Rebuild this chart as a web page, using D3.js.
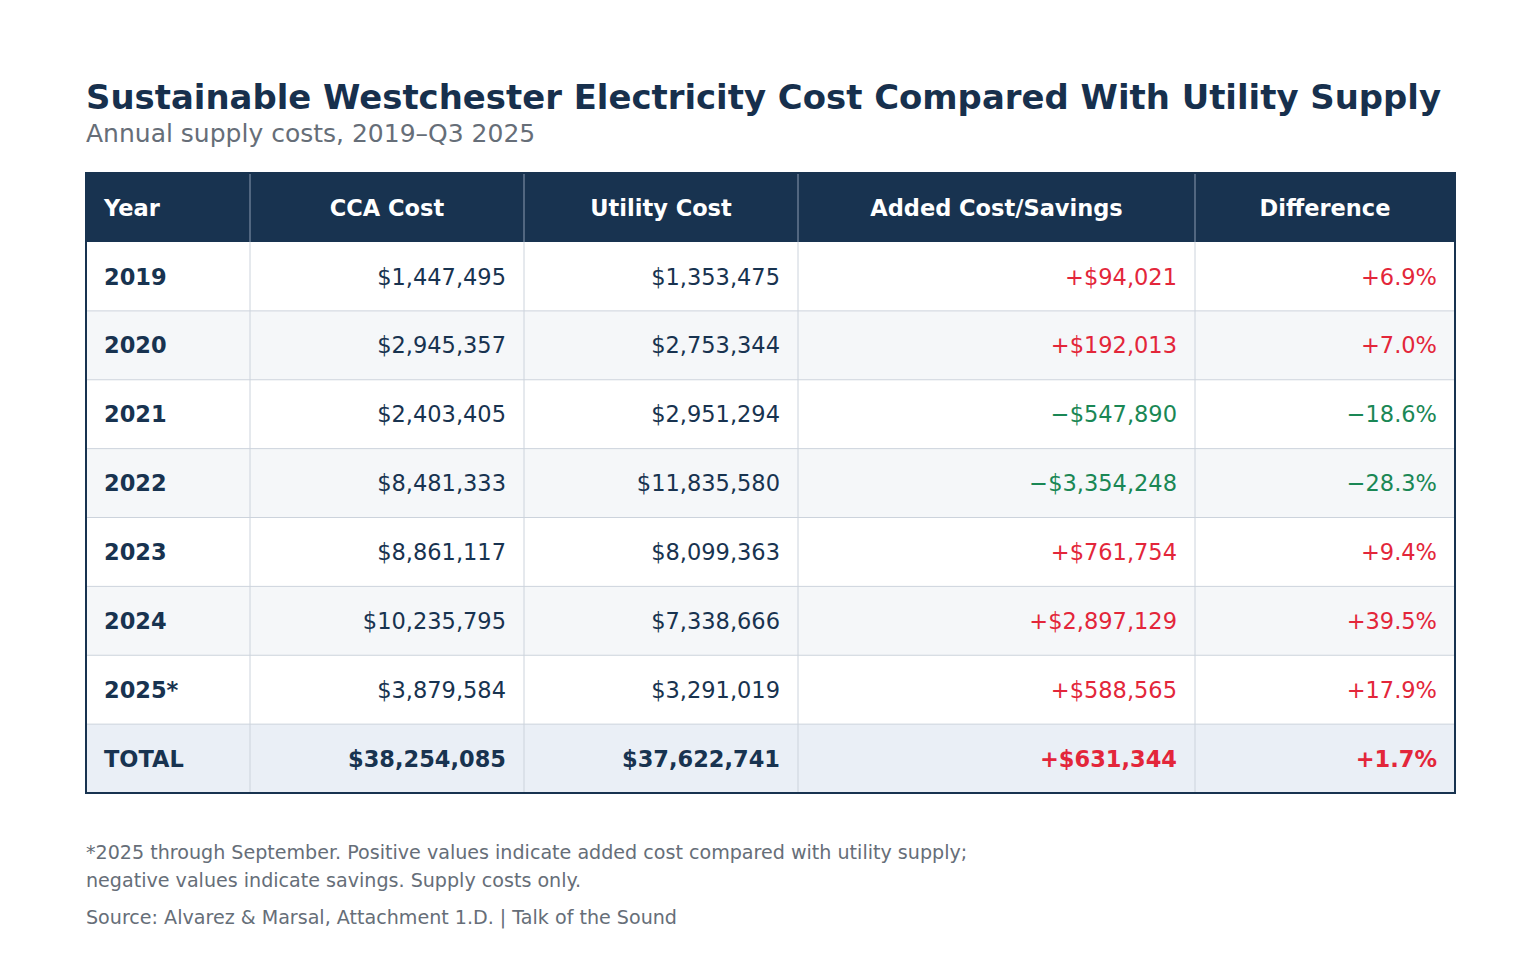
<!DOCTYPE html>
<html>
<head>
<meta charset="utf-8">
<script src="https://cdn.jsdelivr.net/npm/d3@7"></script>
<style>
  body { margin: 0; background: #fff; }
  svg { display: block; font-family: "DejaVu Sans", sans-serif; }
</style>
</head>
<body>
<svg id="chart" width="1540" height="976"></svg>
<script>
//table data
const years = ['2019', '2020', '2021', '2022', '2023', '2024', '2025*', 'TOTAL'];
const ccaCost = [1447495, 2945357, 2403405, 8481333, 8861117, 10235795, 3879584, 38254085];
const utilityCost = [1353475, 2753344, 2951294, 11835580, 8099363, 7338666, 3291019, 37622741];
const addedCost = [94021, 192013, -547890, -3354248, 761754, 2897129, 588565, 631344];
const difference = [6.9, 7.0, -18.6, -28.3, 9.4, 39.5, 17.9, 1.7];
const headers = ['Year', 'CCA Cost', 'Utility Cost', 'Added Cost/Savings', 'Difference'];

const navy = '#183350';
const red = '#e3263a';
const green = '#1a8755';

const svg = d3.select('#chart');

const tLeft = 86, tRight = 1455, tTop = 173, headH = 69, tBottom = 793;
const colEdges = [86, 250, 524, 798, 1195, 1455]; //column boundaries
const cellSize = 22.5;

//rows through a band scale
const y = d3.scaleBand()
    .domain(years)
    .range([tTop + headH, tBottom]);

const money = d3.format(',.0f');
const fmtMoney = v => '$' + money(v);
const fmtSigned = v => (v < 0 ? '\u2212' : '+') + '$' + money(Math.abs(v));
const fmtPct = v => (v < 0 ? '\u2212' : '+') + d3.format('.1f')(Math.abs(v)) + '%';

//title
svg.append('text')
    .attr('x', tLeft).attr('y', 109)
    .attr('font-size', 33.9).attr('font-weight', 'bold')
    .attr('fill', '#17304d')
    .text('Sustainable Westchester Electricity Cost Compared With Utility Supply');

svg.append('text')
    .attr('x', tLeft).attr('y', 142)
    .attr('font-size', 25)
    .attr('fill', '#666e78')
    .text('Annual supply costs, 2019\u2013Q3 2025');

//row backgrounds
svg.selectAll('.rowbg')
    .data(years)
    .enter().append('rect')
    .attr('class', 'rowbg')
    .attr('x', tLeft)
    .attr('y', d => y(d))
    .attr('width', tRight - tLeft)
    .attr('height', y.bandwidth())
    .attr('fill', (d, i) => d === 'TOTAL' ? '#eaeff6' : (i % 2 ? '#f5f7f9' : '#ffffff'));

//header
svg.append('rect')
    .attr('x', tLeft).attr('y', tTop)
    .attr('width', tRight - tLeft).attr('height', headH)
    .attr('fill', navy);

//horizontal grid lines
svg.selectAll('.hline')
    .data(years.slice(1))
    .enter().append('line')
    .attr('x1', tLeft).attr('x2', tRight)
    .attr('y1', d => y(d)).attr('y2', d => y(d))
    .attr('stroke', '#ccd3dc').attr('stroke-width', 1);

//vertical lines in body and header
colEdges.slice(1, -1).forEach(cx => {
    svg.append('line')
        .attr('x1', cx).attr('x2', cx)
        .attr('y1', tTop + headH).attr('y2', tBottom)
        .attr('stroke', '#ccd3dc');
    svg.append('line')
        .attr('x1', cx).attr('x2', cx)
        .attr('y1', tTop).attr('y2', tTop + headH)
        .attr('stroke', '#8a9bb0');
});

//header text
headers.forEach((h, i) => {
    svg.append('text')
        .attr('x', i === 0 ? colEdges[0] + 18 : (colEdges[i] + colEdges[i + 1]) / 2)
        .attr('y', tTop + headH / 2)
        .attr('dy', '0.36em')
        .attr('text-anchor', i === 0 ? 'start' : 'middle')
        .attr('font-size', cellSize).attr('font-weight', 'bold')
        .attr('fill', '#ffffff')
        .text(h);
});

//cells
const columns = [
    { values: ccaCost, fmt: fmtMoney, color: () => navy },
    { values: utilityCost, fmt: fmtMoney, color: () => navy },
    { values: addedCost, fmt: fmtSigned, color: v => v < 0 ? green : red },
    { values: difference, fmt: fmtPct, color: v => v < 0 ? green : red }
];

svg.selectAll('.yearlabel')
    .data(years)
    .enter().append('text')
    .attr('x', colEdges[0] + 18)
    .attr('y', d => y(d) + y.bandwidth() / 2)
    .attr('dy', '0.36em')
    .attr('font-size', cellSize).attr('font-weight', 'bold')
    .attr('fill', navy)
    .text(d => d);

columns.forEach((col, c) => {
    svg.selectAll('.col' + c)
        .data(col.values)
        .enter().append('text')
        .attr('x', colEdges[c + 2] - 18)
        .attr('y', (d, i) => y(years[i]) + y.bandwidth() / 2)
        .attr('dy', '0.36em')
        .attr('text-anchor', 'end')
        .attr('font-size', cellSize)
        .attr('font-weight', (d, i) => years[i] === 'TOTAL' ? 'bold' : 'normal')
        .attr('fill', d => col.color(d))
        .text(d => col.fmt(d));
});

//outer border
svg.append('rect')
    .attr('x', tLeft).attr('y', tTop)
    .attr('width', tRight - tLeft).attr('height', tBottom - tTop)
    .attr('fill', 'none')
    .attr('stroke', navy).attr('stroke-width', 2);

//footnotes
const notes = [
    ['*2025 through September. Positive values indicate added cost compared with utility supply;', 859],
    ['negative values indicate savings. Supply costs only.', 887],
    ['Source: Alvarez & Marsal, Attachment 1.D. | Talk of the Sound', 924]
];
svg.selectAll('.note')
    .data(notes)
    .enter().append('text')
    .attr('x', tLeft)
    .attr('y', d => d[1])
    .attr('font-size', 19.1)
    .attr('fill', '#666e78')
    .text(d => d[0]);
</script>
</body>
</html>
